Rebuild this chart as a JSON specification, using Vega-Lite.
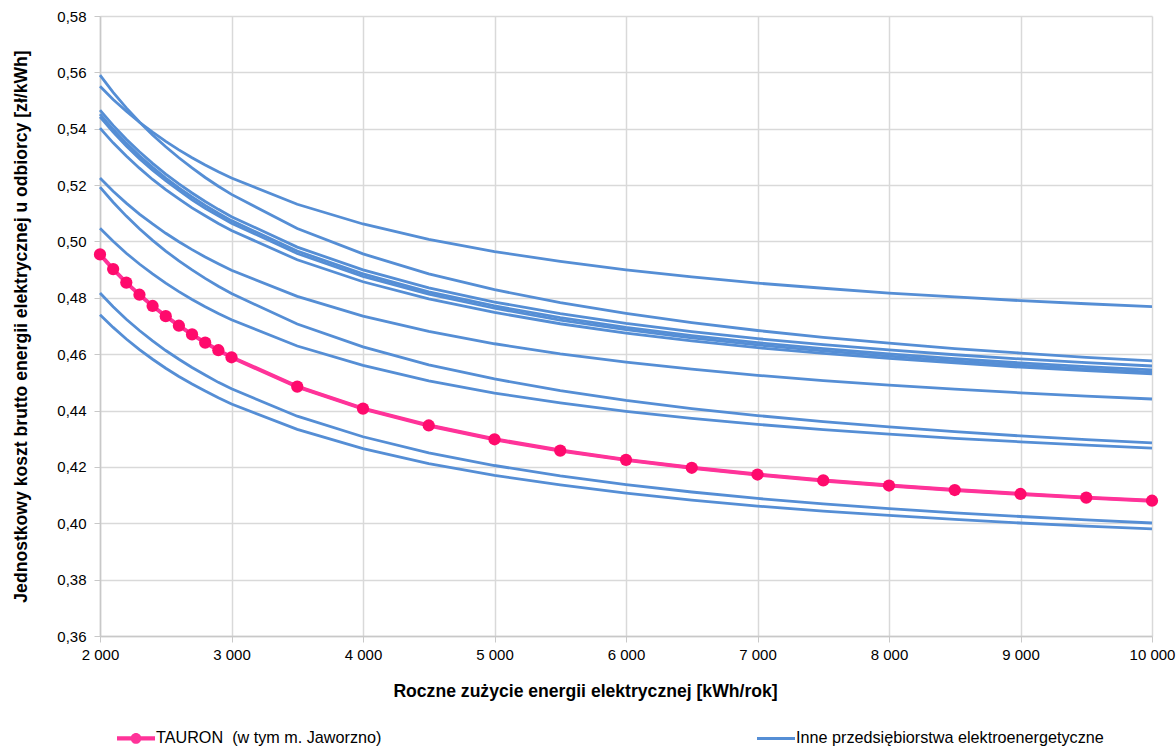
{
  "$schema": "https://vega.github.io/schema/vega-lite/v6.json",
  "width": 1052,
  "height": 620,
  "padding": {"left": 100, "top": 16, "right": 24, "bottom": 111},
  "autosize": {"type": "none"},
  "background": "white",
  "config": {
    "locale": {"number": {"decimal": ",", "thousands": " ", "grouping": [3], "currency": ["", " zł"]}},
    "font": "Liberation Sans",
    "view": {"stroke": null},
    "axis": {
      "gridColor": "#d9d9d9",
      "gridWidth": 1.5,
      "domainColor": "#c8c8c8",
      "domainWidth": 1.5,
      "tickColor": "#c8c8c8",
      "tickSize": 6,
      "labelFont": "Liberation Sans",
      "labelFontSize": 15,
      "labelColor": "#000000",
      "labelFlush": false,
      "titleFont": "Liberation Sans",
      "titleFontSize": 17.6,
      "titleFontWeight": "bold",
      "titleColor": "#000000"
    }
  },
  "data": {
    "values": [
      {"x": 2000, "TAURON": 0.4954, "A": 0.5551, "B": 0.5590, "C": 0.5466, "D": 0.5452, "E": 0.5442, "F": 0.5402, "G": 0.5225, "H": 0.5193, "I": 0.5047, "J": 0.4817, "K": 0.4740},
      {"x": 2100, "TAURON": 0.4902, "A": 0.5504, "B": 0.5529, "C": 0.5412, "D": 0.5398, "E": 0.5388, "F": 0.5350, "G": 0.5178, "H": 0.5139, "I": 0.5001, "J": 0.4768, "K": 0.4695},
      {"x": 2200, "TAURON": 0.4854, "A": 0.5462, "B": 0.5474, "C": 0.5363, "D": 0.5349, "E": 0.5339, "F": 0.5303, "G": 0.5136, "H": 0.5090, "I": 0.4958, "J": 0.4724, "K": 0.4654},
      {"x": 2300, "TAURON": 0.4811, "A": 0.5423, "B": 0.5424, "C": 0.5318, "D": 0.5304, "E": 0.5294, "F": 0.5260, "G": 0.5097, "H": 0.5045, "I": 0.4920, "J": 0.4684, "K": 0.4616},
      {"x": 2400, "TAURON": 0.4771, "A": 0.5388, "B": 0.5378, "C": 0.5277, "D": 0.5263, "E": 0.5253, "F": 0.5220, "G": 0.5062, "H": 0.5004, "I": 0.4885, "J": 0.4647, "K": 0.4582},
      {"x": 2500, "TAURON": 0.4735, "A": 0.5355, "B": 0.5336, "C": 0.5239, "D": 0.5225, "E": 0.5216, "F": 0.5184, "G": 0.5029, "H": 0.4966, "I": 0.4852, "J": 0.4613, "K": 0.4550},
      {"x": 2600, "TAURON": 0.4701, "A": 0.5325, "B": 0.5297, "C": 0.5204, "D": 0.5190, "E": 0.5181, "F": 0.5151, "G": 0.4999, "H": 0.4931, "I": 0.4822, "J": 0.4582, "K": 0.4521},
      {"x": 2700, "TAURON": 0.4670, "A": 0.5297, "B": 0.5261, "C": 0.5172, "D": 0.5158, "E": 0.5148, "F": 0.5119, "G": 0.4971, "H": 0.4899, "I": 0.4794, "J": 0.4553, "K": 0.4494},
      {"x": 2800, "TAURON": 0.4641, "A": 0.5271, "B": 0.5227, "C": 0.5142, "D": 0.5128, "E": 0.5118, "F": 0.5091, "G": 0.4945, "H": 0.4869, "I": 0.4768, "J": 0.4526, "K": 0.4469},
      {"x": 2900, "TAURON": 0.4614, "A": 0.5247, "B": 0.5196, "C": 0.5114, "D": 0.5100, "E": 0.5091, "F": 0.5064, "G": 0.4921, "H": 0.4841, "I": 0.4744, "J": 0.4500, "K": 0.4445},
      {"x": 3000, "TAURON": 0.4589, "A": 0.5225, "B": 0.5167, "C": 0.5088, "D": 0.5074, "E": 0.5065, "F": 0.5039, "G": 0.4898, "H": 0.4815, "I": 0.4722, "J": 0.4477, "K": 0.4423},
      {"x": 3500, "TAURON": 0.4485, "A": 0.5132, "B": 0.5046, "C": 0.4980, "D": 0.4966, "E": 0.4957, "F": 0.4935, "G": 0.4805, "H": 0.4707, "I": 0.4629, "J": 0.4380, "K": 0.4333},
      {"x": 4000, "TAURON": 0.4407, "A": 0.5062, "B": 0.4956, "C": 0.4899, "D": 0.4885, "E": 0.4876, "F": 0.4857, "G": 0.4735, "H": 0.4626, "I": 0.4560, "J": 0.4307, "K": 0.4265},
      {"x": 4500, "TAURON": 0.4347, "A": 0.5007, "B": 0.4885, "C": 0.4835, "D": 0.4821, "E": 0.4813, "F": 0.4796, "G": 0.4681, "H": 0.4562, "I": 0.4505, "J": 0.4250, "K": 0.4212},
      {"x": 5000, "TAURON": 0.4298, "A": 0.4964, "B": 0.4829, "C": 0.4785, "D": 0.4771, "E": 0.4763, "F": 0.4748, "G": 0.4637, "H": 0.4512, "I": 0.4462, "J": 0.4205, "K": 0.4170},
      {"x": 5500, "TAURON": 0.4258, "A": 0.4929, "B": 0.4783, "C": 0.4744, "D": 0.4730, "E": 0.4721, "F": 0.4708, "G": 0.4601, "H": 0.4471, "I": 0.4427, "J": 0.4168, "K": 0.4136},
      {"x": 6000, "TAURON": 0.4225, "A": 0.4899, "B": 0.4745, "C": 0.4709, "D": 0.4695, "E": 0.4687, "F": 0.4675, "G": 0.4572, "H": 0.4436, "I": 0.4397, "J": 0.4137, "K": 0.4107},
      {"x": 6500, "TAURON": 0.4197, "A": 0.4874, "B": 0.4712, "C": 0.4680, "D": 0.4666, "E": 0.4658, "F": 0.4647, "G": 0.4547, "H": 0.4407, "I": 0.4372, "J": 0.4111, "K": 0.4082},
      {"x": 7000, "TAURON": 0.4173, "A": 0.4852, "B": 0.4684, "C": 0.4655, "D": 0.4641, "E": 0.4633, "F": 0.4623, "G": 0.4525, "H": 0.4382, "I": 0.4351, "J": 0.4088, "K": 0.4061},
      {"x": 7500, "TAURON": 0.4152, "A": 0.4834, "B": 0.4660, "C": 0.4634, "D": 0.4620, "E": 0.4612, "F": 0.4603, "G": 0.4506, "H": 0.4361, "I": 0.4332, "J": 0.4069, "K": 0.4043},
      {"x": 8000, "TAURON": 0.4134, "A": 0.4817, "B": 0.4639, "C": 0.4615, "D": 0.4601, "E": 0.4593, "F": 0.4585, "G": 0.4490, "H": 0.4342, "I": 0.4316, "J": 0.4052, "K": 0.4028},
      {"x": 8500, "TAURON": 0.4118, "A": 0.4803, "B": 0.4620, "C": 0.4598, "D": 0.4584, "E": 0.4576, "F": 0.4569, "G": 0.4476, "H": 0.4325, "I": 0.4301, "J": 0.4037, "K": 0.4014},
      {"x": 9000, "TAURON": 0.4104, "A": 0.4790, "B": 0.4604, "C": 0.4583, "D": 0.4569, "E": 0.4561, "F": 0.4554, "G": 0.4463, "H": 0.4310, "I": 0.4289, "J": 0.4024, "K": 0.4001},
      {"x": 9500, "TAURON": 0.4091, "A": 0.4779, "B": 0.4589, "C": 0.4570, "D": 0.4556, "E": 0.4548, "F": 0.4542, "G": 0.4451, "H": 0.4297, "I": 0.4277, "J": 0.4012, "K": 0.3990},
      {"x": 10000, "TAURON": 0.4080, "A": 0.4769, "B": 0.4576, "C": 0.4558, "D": 0.4544, "E": 0.4536, "F": 0.4530, "G": 0.4441, "H": 0.4285, "I": 0.4267, "J": 0.4001, "K": 0.3980}
    ]
  },
  "transform": [
    {"fold": ["A", "B", "C", "D", "E", "F", "G", "H", "I", "J", "K", "TAURON"], "as": ["line", "cost"]},
    {"calculate": "datum.line === 'TAURON' ? 'TAURON\u00a0 (w tym m. Jaworzno)' : 'Inne przedsiębiorstwa elektroenergetyczne'", "as": "group"}
  ],
  "encoding": {
    "x": {
      "field": "x",
      "type": "quantitative",
      "scale": {"domain": [2000, 10000], "nice": false},
      "axis": {"title": "Roczne zużycie energii elektrycznej [kWh/rok]", "format": ",.0f", "values": [2000, 3000, 4000, 5000, 6000, 7000, 8000, 9000, 10000], "labelPadding": 5, "titlePadding": 20, "titleX": 485}
    },
    "y": {
      "field": "cost",
      "type": "quantitative",
      "scale": {"domain": [0.36, 0.58], "nice": false, "zero": false},
      "axis": {"title": "Jednostkowy koszt brutto energii elektrycznej u odbiorcy [zł/kWh]", "format": ".2f", "values": [0.36, 0.38, 0.40, 0.42, 0.44, 0.46, 0.48, 0.50, 0.52, 0.54, 0.56, 0.58], "labelPadding": 8, "titlePadding": 26}
    }
  },
  "layer": [
    {
      "mark": {"type": "line", "strokeWidth": 2.8, "interpolate": "linear"},
      "encoding": {
        "detail": {"field": "line"},
        "order": {"field": "x", "type": "quantitative"},
        "color": {
          "field": "group",
          "type": "nominal",
          "scale": {"domain": ["TAURON\u00a0 (w tym m. Jaworzno)", "Inne przedsiębiorstwa elektroenergetyczne"], "range": ["#ff3399", "#558ed5"]},
          "legend": {
            "title": null,
            "orient": "none",
            "direction": "horizontal",
            "columns": 2,
            "columnPadding": 375,
            "legendX": 17,
            "legendY": 703,
            "labelFont": "Liberation Sans",
            "labelFontSize": 16.2,
            "labelColor": "#000000",
            "labelOffset": 1,
            "labelLimit": 400,
            "symbolSize": 1444,
            "encode": {
              "symbols": {
                "update": {
                  "shape": {"signal": "datum.index === 0 ? 'M-1,-0.11H-0.2V0.11H-1Z M0.2,-0.11H1V0.11H0.2Z M-0.28,0A0.28,0.28 0 1,1 0.28,0A0.28,0.28 0 1,1 -0.28,0Z' : 'M-1,-0.08H1V0.08H-1Z'"},
                  "fill": {"signal": "datum.index === 0 ? '#ff3399' : '#558ed5'"},
                  "stroke": {"value": "transparent"},
                  "strokeWidth": {"value": 0},
                  "opacity": {"value": 1}
                }
              }
            }
          }
        }
      }
    },
    {
      "transform": [{"filter": "datum.line === 'TAURON'"}],
      "mark": {"type": "line", "strokeWidth": 4, "color": "#ff3399"},
      "encoding": {"order": {"field": "x", "type": "quantitative"}}
    },
    {
      "transform": [{"filter": "datum.line === 'TAURON'"}],
      "mark": {"type": "point", "filled": true, "size": 150, "color": "#ff0a6c", "opacity": 1},
      "encoding": {}
    }
  ]
}
